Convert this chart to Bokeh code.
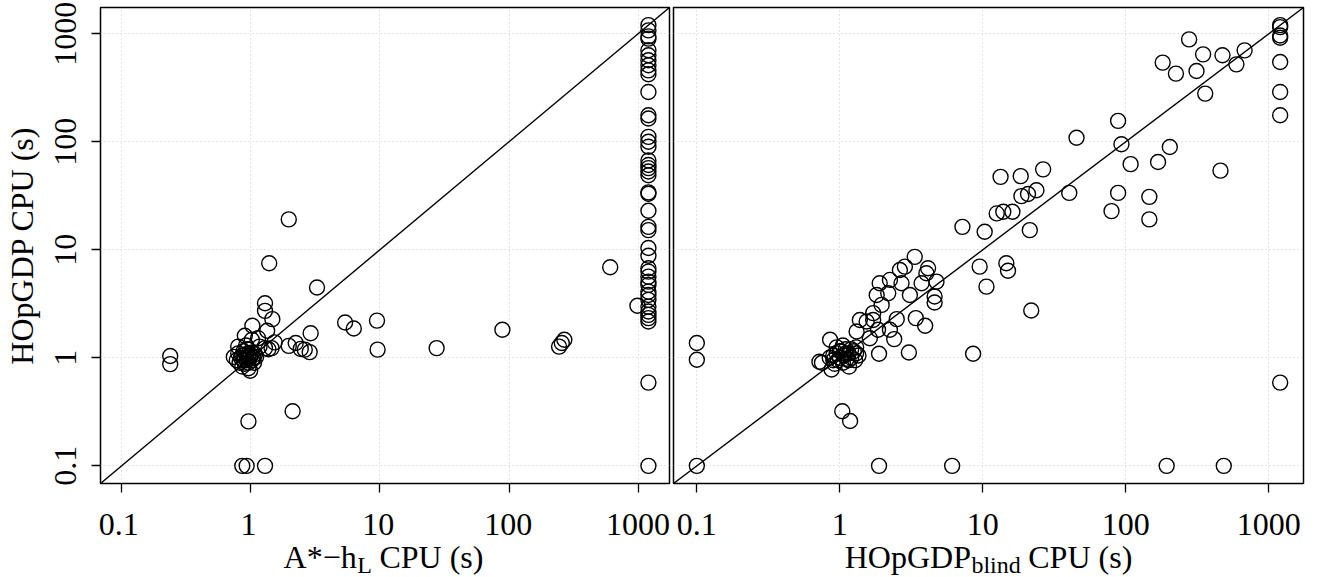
import numpy as np
from bokeh.plotting import figure
from bokeh.layouts import row, column
from bokeh.models import FixedTicker, Range1d, CustomJSTickFormatter
from bokeh.core.properties import value
from bokeh.embed import file_html
from bokeh.resources import INLINE

# ---------------- data ----------------
tick_values = [0.1, 1, 10, 100, 1000]
tick_labels = ["0.1", "1", "10", "100", "1000"]

y_title = "HOpGDP CPU (s)"
left_title = ("A*\u2212h", "L", "CPU (s)")
right_title = ("HOpGDP", "blind", "CPU (s)")

# left panel: A*-hL CPU (x) vs HOpGDP CPU (y)
left_x = [0.74, 0.78, 0.80, 0.82, 0.84, 0.86, 0.86, 0.88, 0.88, 0.90, 0.90, 0.92, 0.93, 0.94,
          0.95, 0.96, 0.97, 0.98, 0.99, 1.00, 1.02, 1.03, 1.05, 1.06, 1.08, 1.10, 0.92, 0.96,
          0.80, 0.90, 1.02, 1.14, 1.17, 1.29, 1.37, 1.45, 1.03, 1.34, 1.29, 1.29, 1.47, 1.53,
          1.39, 3.26, 1.97, 1.97, 2.23, 2.44, 2.62, 2.86, 2.91, 5.38, 6.28, 9.5, 9.6, 27.5,
          88.8, 244, 256, 268, 607, 986, 0.238, 0.238, 0.96, 2.11, 0.86, 0.93, 1.29,
          1200, 1200, 1200, 1200, 1200, 1200, 1200, 1200, 1200, 1200, 1200, 1200, 1200, 1200,
          1200, 1200, 1200, 1200, 1200, 1200, 1200, 1200, 1200, 1200, 1200, 1200, 1200, 1200,
          1200, 1200, 1200, 1200, 1200, 1200, 1200, 1200, 1200, 1200, 1200, 1200, 1200, 1200,
          1200]
left_y = [1.02, 0.95, 1.10, 0.90, 1.00, 1.05, 0.83, 0.95, 1.15, 1.00, 0.88, 1.08, 0.95, 1.20,
          1.02, 0.90, 1.10, 1.00, 0.76, 1.05, 0.95, 1.12, 1.00, 0.90, 1.08, 1.02, 1.30, 0.80,
          1.27, 1.60, 1.47, 1.52, 1.27, 1.23, 1.20, 1.23, 1.98, 1.78, 3.20, 2.72, 2.28, 1.39,
          7.5, 4.47, 19.1, 1.29, 1.37, 1.21, 1.19, 1.13, 1.69, 2.12, 1.87, 2.21, 1.19, 1.23,
          1.82, 1.27, 1.37, 1.47, 6.9, 3.03, 1.04, 0.875, 0.258, 0.32, 0.1, 0.1, 0.1,
          1200, 1073, 944, 900, 702, 631, 567, 510, 458, 421, 289, 176, 164, 111,
          100, 90, 67, 61, 57, 53, 49, 34, 33, 23, 16.3, 15.2, 10.4, 8.8,
          6.75, 6.28, 5.64, 5.07, 4.73, 4.1, 3.82, 3.44, 2.98, 2.68, 2.5, 2.33, 2.17, 0.59,
          0.1]

# right panel: HOpGDP_blind CPU (x) vs HOpGDP CPU (y)
right_x = [0.1, 0.1, 0.1, 1.04, 1.18, 1.88, 6.1, 193, 484, 1200,
           0.72, 0.75, 0.855, 0.875, 0.85, 0.9, 0.92, 0.95, 0.97, 1.0, 1.02, 1.05, 1.07, 1.1,
           1.12, 1.15, 1.16, 1.2, 1.25, 1.28, 1.3, 0.95, 1.05, 1.35, 1.1, 1.0, 1.2, 0.9, 1.15, 1.3,
           1.31, 1.38, 1.54, 1.62, 1.71, 1.85, 1.71, 1.88, 1.96, 1.81, 2.18, 1.9, 2.24, 2.24,
           2.4, 2.5, 2.7, 3.09, 2.63, 2.85, 3.34, 3.04, 3.4, 3.95, 3.73, 4.14, 4.03, 4.74, 4.6,
           4.6, 7.2, 8.55, 9.5, 10.6, 10.3, 14.6, 15, 21.8, 12.5, 13.9, 16.1, 13.3, 18.4, 26.4,
           18.6, 20.7, 23.7, 21.3, 40.2, 45.2, 88.3, 93.2, 108, 88.3, 79.4, 146, 146, 168, 203,
           459, 181, 224, 277, 312, 347, 359, 474, 593, 677,
           1200, 1200, 1200, 1200, 1200, 1200, 1200]
right_y = [1.37, 0.96, 0.1, 0.32, 0.26, 0.1, 0.1, 0.1, 0.1, 0.59,
           0.92, 0.9, 1.47, 0.78, 1.0, 1.05, 0.88, 1.1, 0.95, 1.0, 1.15, 0.9, 1.05, 1.2,
           0.98, 1.1, 0.83, 1.0, 1.15, 0.95, 1.25, 1.25, 1.3, 1.05, 1.1, 1.15, 1.2, 0.95, 0.95, 1.1,
           1.75, 2.24, 2.17, 1.52, 2.24, 1.82, 2.59, 1.09, 3.09, 3.82, 3.96, 4.9, 5.26, 1.82,
           1.49, 2.28, 4.9, 3.82, 6.5, 6.98, 8.6, 1.12, 2.33, 1.98, 4.9, 6.74, 6.06, 5.07, 3.69,
           3.25, 16.3, 1.09, 6.98, 4.56, 14.7, 7.5, 6.4, 2.74, 21.7, 22.5, 22.5, 47.3, 48, 55.5,
           31.4, 32.8, 35.6, 15.2, 33.6, 109, 156, 94.8, 62, 33.6, 22.8, 30.9, 19.1, 65, 89.5,
           54, 540, 427, 885, 452, 644, 279, 631, 520, 701,
           1200, 1150, 963, 918, 547, 289, 176]

# ---------------- layout / styling ----------------
FONT = "Liberation Serif"
FS = 32            # tick label + title font size (px)
SUB = 0.75         # subscript scale
TOTAL_H = 577
MAIN_H = 493       # frame 7..483, ticks below
FRAME_TOP = 7
FRAME_H = 476
STRIP_H = TOTAL_H - MAIN_H

allv = np.log10(np.array(left_x + left_y + right_x + right_y, dtype=float))
lo, hi = allv.min(), allv.max()
pad = 0.04 * (hi - lo)
L_LO, L_HI = lo - pad, hi + pad
lims = (10 ** L_LO, 10 ** L_HI)

EM = {"A": .722, "*": .5, "\u2212": .564, "h": .5, "L": .611, " ": .25, "C": .667, "P": .556,
      "U": .722, "(": .333, "s": .389, ")": .333, "H": .722, "O": .722, "p": .5, "G": .722,
      "D": .722, "b": .5, "l": .278, "i": .278, "n": .5, "d": .5}


def tw(s, size):
    return sum(EM.get(c, .5) for c in s) * size


def make_fig(width, bl, br):
    p = figure(width=width, height=MAIN_H, x_axis_type="log", y_axis_type="log",
               x_range=Range1d(*lims), y_range=Range1d(*lims),
               output_backend="svg", toolbar_location=None,
               min_border_left=bl, min_border_right=br, min_border_top=FRAME_TOP,
               min_border_bottom=MAIN_H - FRAME_TOP - FRAME_H)
    p.outline_line_color = "black"
    p.outline_line_width = 1.5
    p.outline_line_alpha = 1.0
    p.background_fill_color = "white"
    p.border_fill_color = "white"
    for ax in list(p.xaxis) + list(p.yaxis):
        ax.ticker = FixedTicker(ticks=tick_values)
        ax.major_label_overrides = {v: l for v, l in zip(tick_values, tick_labels)}
        ax.axis_line_color = None
        ax.major_tick_in = 0
        ax.major_tick_out = 9
        ax.major_tick_line_color = "black"
        ax.major_tick_line_width = 1.3
        ax.minor_tick_line_color = None
        ax.major_label_text_font = FONT
        ax.major_label_text_font_size = f"{FS}px"
        ax.major_label_text_color = "black"
        ax.axis_label_text_font = FONT
        ax.axis_label_text_font_size = f"{FS}px"
        ax.axis_label_text_font_style = "normal"
        ax.axis_label_text_color = "black"
    # x tick labels are drawn in the strip below (together with the subscripted titles);
    # here the x axis only draws its tick marks
    p.xaxis.formatter = CustomJSTickFormatter(code="return ''")
    p.xaxis.major_label_text_font_size = "1px"
    p.xaxis.major_label_text_color = None
    p.xaxis.major_label_standoff = 0
    for g in (p.xgrid, p.ygrid):
        g.grid_line_color = "#c8c8c8"
        g.grid_line_dash = "1 3"
        g.grid_line_width = 1
    p.line(x=list(lims), y=list(lims), line_color="black", line_width=1.4)
    return p


def make_strip(width, px_left, px_right, frame_w, parts):
    k = (L_HI - L_LO) / frame_w
    xr = Range1d(10 ** (L_LO - px_left * k), 10 ** (L_HI + px_right * k))
    s = figure(width=width, height=STRIP_H, x_axis_type="log", x_range=xr,
               y_range=Range1d(0, STRIP_H), x_axis_location=None, y_axis_location=None,
               output_backend="svg", toolbar_location=None,
               min_border_left=0, min_border_right=0, min_border_top=0, min_border_bottom=0)
    s.outline_line_color = None
    s.background_fill_color = "white"
    s.border_fill_color = "white"
    s.xgrid.visible = False
    s.ygrid.visible = False
    # tick labels
    s.text(x=tick_values, y=TOTAL_H - 524, text=tick_labels, text_font=value(FONT),
           text_font_size=value(f"{FS}px"), text_color="black",
           text_align="center", text_baseline="middle")
    # axis title with subscript
    main, sub, rest = parts
    fs_sub = FS * SUB
    w_main, w_sub, w_sp, w_rest = tw(main, FS), tw(sub, fs_sub), tw(" ", FS), tw(rest, FS)
    total = w_main + w_sub + w_sp + w_rest
    a = -total / 2 + w_main
    xc = [10 ** ((L_LO + L_HI) / 2)]
    y_main = TOTAL_H - 556
    y_sub = TOTAL_H - 564
    common = dict(text_font=value(FONT), text_color="black", text_baseline="middle")
    s.text(x=xc, y=y_main, text=[main], x_offset=a, text_align="right",
           text_font_size=value(f"{FS}px"), **common)
    s.text(x=xc, y=y_sub, text=[sub], x_offset=a + 0.5, text_align="left",
           text_font_size=value(f"{fs_sub:.0f}px"), **common)
    s.text(x=xc, y=y_main, text=[rest], x_offset=a + w_sub + w_sp, text_align="left",
           text_font_size=value(f"{FS}px"), **common)
    return s


# left panel (page x 0..671, frame 97..669)
p1 = make_fig(671, 97, 2)
p1.yaxis.axis_label = y_title
p1.yaxis.major_label_orientation = "vertical"
p1.yaxis.major_label_standoff = 15
p1.yaxis.axis_label_standoff = 13
p1.scatter(left_x, left_y, marker="circle", size=15, fill_color=None,
           line_color="black", line_width=1.4)

# right panel (page x 671..1305, frame 673..1303)
p2 = make_fig(634, 2, 2)
p2.yaxis.visible = False
p2.scatter(right_x, right_y, marker="circle", size=15, fill_color=None,
           line_color="black", line_width=1.4)

s1 = make_strip(671, 97, 2, 572, left_title)
s2 = make_strip(634, 2, 2, 630, right_title)

layout = column(row(p1, p2), row(s1, s2))
open("out.html", "w").write(file_html(layout, INLINE))
